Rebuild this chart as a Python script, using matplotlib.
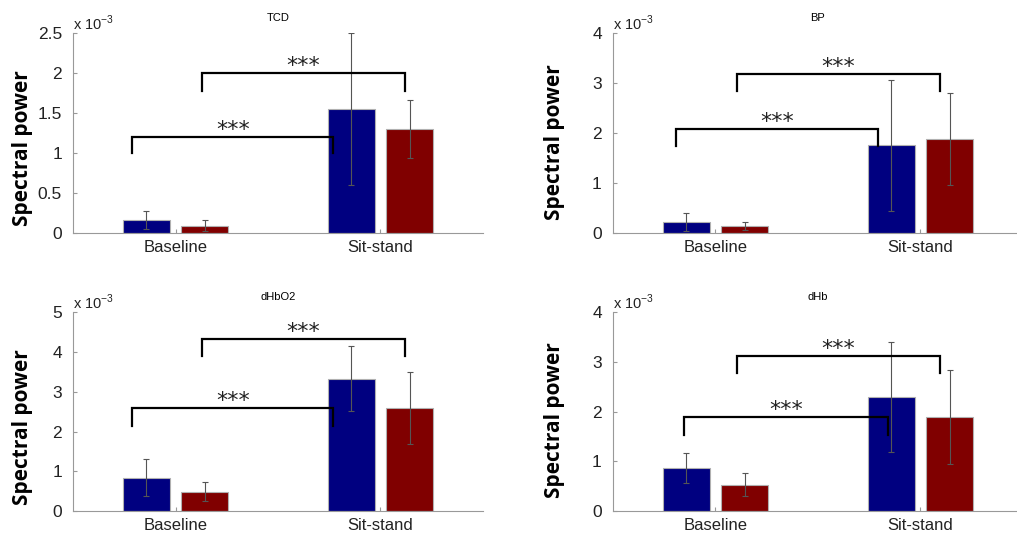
import matplotlib
matplotlib.use('Agg')
import matplotlib.pyplot as plt
import numpy as np

plt.rcParams['font.family'] = ['Liberation Sans', 'DejaVu Sans']

# groups on the x axis
groups = ['Baseline', 'Sit-stand']

# values are in units of 1e-3
tcd_blue = [0.165, 1.55]
tcd_blue_err = [0.11, 0.95]
tcd_red = [0.09, 1.30]
tcd_red_err = [0.07, 0.36]

bp_blue = [0.23, 1.76]
bp_blue_err = [0.18, 1.31]
bp_red = [0.15, 1.88]
bp_red_err = [0.08, 0.92]

hbo2_blue = [0.84, 3.33]
hbo2_blue_err = [0.46, 0.81]
hbo2_red = [0.49, 2.60]
hbo2_red_err = [0.23, 0.91]

hb_blue = [0.86, 2.30]
hb_blue_err = [0.30, 1.11]
hb_red = [0.53, 1.89]
hb_red_err = [0.23, 0.95]

# significance brackets: (x left, x right, y top, y foot)
tcd_brackets = [(0.79, 1.77, 1.20, 1.00), (1.13, 2.12, 2.00, 1.78)]
bp_brackets = [(0.81, 1.795, 2.09, 1.75), (1.107, 2.094, 3.18, 2.84)]
hbo2_brackets = [(0.79, 1.77, 2.60, 2.15), (1.13, 2.12, 4.32, 3.89)]
hb_brackets = [(0.847, 1.84, 1.90, 1.54), (1.107, 2.094, 3.12, 2.78)]

tcd_ticks = [0, 0.5, 1, 1.5, 2, 2.5]
bp_ticks = [0, 1, 2, 3, 4]
hbo2_ticks = [0, 1, 2, 3, 4, 5]
hb_ticks = [0, 1, 2, 3, 4]

BLUE = '#000080'
RED = '#800000'
GRAY = '#999999'

fig = plt.figure(figsize=(10.17, 5.37), dpi=100)

panels = [
    ('TCD', tcd_blue, tcd_blue_err, tcd_red, tcd_red_err, tcd_ticks, tcd_brackets,
     [0.0718, 0.566, 0.4031, 0.3725], 0.022, 0.725),
    ('BP', bp_blue, bp_blue_err, bp_red, bp_red_err, bp_ticks, bp_brackets,
     [0.6027, 0.566, 0.4031, 0.3725], 0.545, 0.735),
    ('dHbO2', hbo2_blue, hbo2_blue_err, hbo2_red, hbo2_red_err, hbo2_ticks, hbo2_brackets,
     [0.0718, 0.0484, 0.4031, 0.370], 0.022, 0.205),
    ('dHb', hb_blue, hb_blue_err, hb_red, hb_red_err, hb_ticks, hb_brackets,
     [0.6027, 0.0484, 0.4031, 0.370], 0.545, 0.218),
]

x = np.arange(1, len(groups) + 1)
off = 0.143
w = 0.23

for title, blue, blue_err, red, red_err, ticks, brackets, pos, lx, ly in panels:
    ax = fig.add_axes(pos)
    ax.bar(x - off, blue, w, color=BLUE, edgecolor='#b0b0b0', linewidth=0.8, zorder=2)
    ax.bar(x + off, red, w, color=RED, edgecolor='#b0b0b0', linewidth=0.8, zorder=2)
    ax.errorbar(x - off, blue, yerr=blue_err, fmt='none', ecolor='#555555',
                elinewidth=0.8, capsize=2, capthick=0.8, zorder=3)
    ax.errorbar(x + off, red, yerr=red_err, fmt='none', ecolor='#555555',
                elinewidth=0.8, capsize=2, capthick=0.8, zorder=3)

    for x0, x1, yt, yf in brackets:
        ax.plot([x0, x0, x1, x1], [yf, yt, yt, yf], color='black', lw=1.6,
                solid_joinstyle='miter', zorder=4, clip_on=False)
        ax.annotate('***', xy=((x0 + x1) / 2, yt), xytext=(0, 5),
                    textcoords='offset points', ha='center', va='center',
                    fontsize=16, family='DejaVu Sans', color='#222222')

    ax.set_xlim(0.5, 2.5)
    ax.set_ylim(0, ticks[-1])
    ax.set_xticks(x)
    ax.set_xticklabels(groups, fontsize=12)
    ax.set_yticks(ticks)
    ax.set_yticklabels(['%g' % t for t in ticks], fontsize=12.5)
    ax.tick_params(axis='both', direction='in', length=3, color=GRAY, colors='#222222')
    ax.tick_params(axis='y', pad=8)
    ax.tick_params(axis='x', pad=5)
    ax.spines['top'].set_visible(False)
    ax.spines['right'].set_visible(False)
    ax.spines['left'].set_color(GRAY)
    ax.spines['bottom'].set_color(GRAY)
    ax.set_title(title, fontsize=8, pad=9)
    ax.text(0.0, 1.0, r'x 10$^{\mathregular{-3}}$', transform=ax.transAxes,
            fontsize=10.5, ha='left', va='bottom', color='#222222')

    fig.text(lx, ly, 'Spectral power', rotation=90, ha='center', va='center',
             fontsize=15, fontweight='bold', family='Open Sans')

fig.savefig('out.png', dpi=100)
